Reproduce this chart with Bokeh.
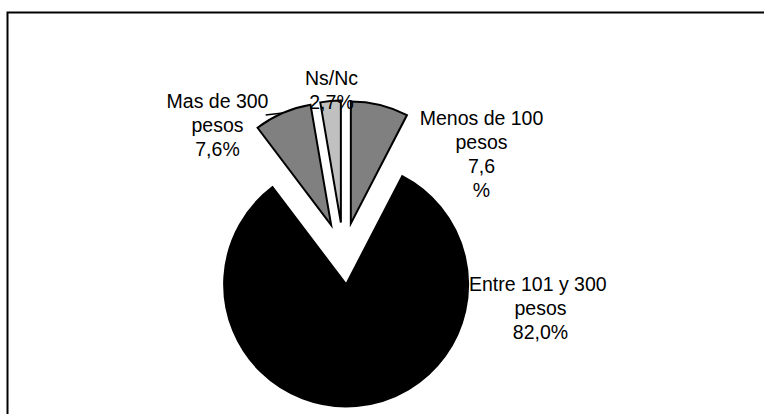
import numpy as np
from bokeh.plotting import figure
from bokeh.models import Range1d, ColumnDataSource
from bokeh.embed import file_html
from bokeh.resources import INLINE
from bokeh.core.properties import value

# ---- data ----
categories = ["Menos de 100 pesos", "Entre 101 y 300 pesos", "Mas de 300 pesos", "Ns/Nc"]
percent = [7.6, 82.0, 7.6, 2.7]
labels = ["Menos de 100\npesos\n7,6\n%",
          "Entre 101  y 300\npesos\n82,0%",
          "Mas de 300\npesos\n7,6%",
          "Ns/Nc\n2,7%"]

# ---- styles / layout ----
colors = ["#808080", "#000000", "#808080", "#C0C0C0"]
W, H = 764, 414
CX, CY = 343, 253          # pie centre (screen px)
R = 122                    # radius (px)
EXPLODE = 31               # explosion distance (px)
FONT = "Liberation Sans"
FSIZE = "19.5px"
LINE_GAP = 24
label_anchor = {           # centre x, first-line baseline y (screen px)
    "Menos de 100 pesos": (481, 117),
    "Entre 101 y 300 pesos": (540, 283),
    "Mas de 300 pesos": (217, 100),
    "Ns/Nc": (331, 77),
}

p = figure(width=W, height=H, x_range=Range1d(0, W), y_range=Range1d(-H, 0),
           output_backend="svg", toolbar_location=None, min_border=0,
           background_fill_color="white", border_fill_color="white")
p.xaxis.visible = False
p.yaxis.visible = False
p.grid.visible = False
p.outline_line_color = None

# outer frame: only top and left edges are inside the window in the reference
p.line(x=[W, 7, 7], y=[-12, -12, -H], line_color="black", line_width=2, line_join="miter")

fr = np.array(percent) / sum(percent)
cum = np.concatenate([[0.0], np.cumsum(fr)])
start = np.pi / 2 - 2 * np.pi * cum[1:]
end = np.pi / 2 - 2 * np.pi * cum[:-1]
mid = (start + end) / 2
xs = CX + EXPLODE * np.cos(mid)
ys = -CY + EXPLODE * np.sin(mid)

src = ColumnDataSource(dict(x=xs, y=ys, start=start, end=end, color=colors, cat=categories))
p.wedge(x="x", y="y", radius=R, start_angle="start", end_angle="end",
        fill_color="color", line_color="black", line_width=2, line_join="miter", source=src)

# leader line for "Mas de 300 pesos"
i = categories.index("Mas de 300 pesos")
ax = xs[i] + R * np.cos(mid[i])
ay = ys[i] + R * np.sin(mid[i])
p.line(x=[ax, ax - 17], y=[ay, ay - 2], line_color="black", line_width=1.5)

# labels
tx, ty, tt = [], [], []
for cat, lab in zip(categories, labels):
    x0, y0 = label_anchor[cat]
    for k, line in enumerate(lab.split("\n")):
        tx.append(x0)
        ty.append(-(y0 + k * LINE_GAP))
        tt.append(line)
p.text(x=tx, y=ty, text=tt, text_font=value(FONT), text_font_size=FSIZE,
       text_align="center", text_baseline="alphabetic", text_color="black")

open("out.html", "w").write(file_html(p, INLINE))
